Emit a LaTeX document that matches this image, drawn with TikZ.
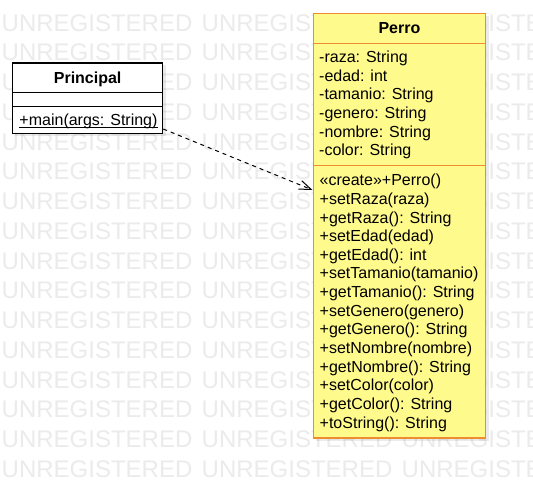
\documentclass[tikz,border=0pt]{standalone}
\usepackage{fontspec}
\setmainfont{Liberation Sans}
\usetikzlibrary{arrows.meta,calc}
\definecolor{wmgray}{RGB}{235,235,235}
\definecolor{pfill}{RGB}{255,250,140}
\definecolor{pstroke}{RGB}{238,140,50}
\begin{document}
\begin{tikzpicture}[x=1pt,y=-1pt,
  wm/.style={anchor=west,inner sep=0pt,text height=17.2pt,text depth=0pt,
    font=\fontsize{24}{24}\selectfont,text=wmgray},
  shadowbox/.style={fill=black,opacity=0.08},
  classbox/.style={draw,line width=1.3pt,inner sep=0pt,anchor=north west},
  hdr/.style={inner sep=0pt,text height=11.46pt,text depth=0pt,
    font=\bfseries\fontsize{16}{16}\selectfont},
  item/.style={anchor=west,inner sep=0pt,text height=11.46pt,text depth=0pt,
    font=\fontsize{16}{16}\selectfont},
  dep/.style={line width=1pt,dash pattern=on 4pt off 4pt,
    -{Straight Barb[length=12pt,width=9pt,line width=1pt]}}]
\useasboundingbox (0,0) rectangle (533,487);
\fill[white] (0,0) rectangle (533,487);
% watermark
\begin{scope}
\clip (0,0) rectangle (533,487);
\foreach \r in {0,...,15}
  \foreach \c in {0,1,2}
    \node[wm] (w\r-\c) at ({1.5+200*\c},{22.5+29.75*\r}) {UNREGISTERED};
\end{scope}
% shadows
\fill[shadowbox] (15,65.5) rectangle (165.5,136);
\fill[shadowbox] (315.5,15.7) rectangle (488.5,440.5);
% Principal
\node[classbox,fill=white,minimum width=150pt,minimum height=70pt] (principal) at (12,62.5) {};
\draw[line width=1.3pt] ($(principal.north west)+(0,30)$) -- ($(principal.north east)+(0,30)$);
\draw[line width=1.3pt] ($(principal.north west)+(0,44)$) -- ($(principal.north east)+(0,44)$);
\node[hdr] (ptitle) at ($(principal.north)+(0,15)$) {Principal};
\node[item] (mmain) at (19.3,120) {+main(args: String)};
\draw[line width=1pt] ($(mmain.south west)+(0,1.6)$) -- ($(mmain.south east)+(0,1.6)$);
% Perro
\node[classbox,draw=pstroke,fill=pfill,minimum width=172.5pt,minimum height=424.6pt] (perro) at (312.5,12.7) {};
\draw[line width=1.3pt,pstroke] ($(perro.north west)+(0,30.6)$) -- ($(perro.north east)+(0,30.6)$);
\draw[line width=1.3pt,pstroke] ($(perro.north west)+(0,153)$) -- ($(perro.north east)+(0,153)$);
\node[hdr] (rtitle) at ($(perro.north)+(0,15.3)$) {Perro};
\foreach \t [count=\i from 0] in {-raza: String,-edad: int,-tamanio: String,-genero: String,-nombre: String,-color: String}
  \node[item] (a\i) at (319,{56.7+18.65*\i}) {\t};
\foreach \t [count=\i from 0] in {«create»+Perro(),+setRaza(raza),+getRaza(): String,+setEdad(edad),+getEdad(): int,+setTamanio(tamanio),+getTamanio(): String,+setGenero(genero),+getGenero(): String,+setNombre(nombre),+getNombre(): String,+setColor(color),+getColor(): String,+toString(): String}
  \node[item] (m\i) at (319.5,{180+18.65*\i}) {\t};
% dependency
\coordinate (y1) at (0,129);
\coordinate (y2) at (0,190);
\draw[dep] (principal.east |- y1) -- (perro.west |- y2);
\end{tikzpicture}
\end{document}
